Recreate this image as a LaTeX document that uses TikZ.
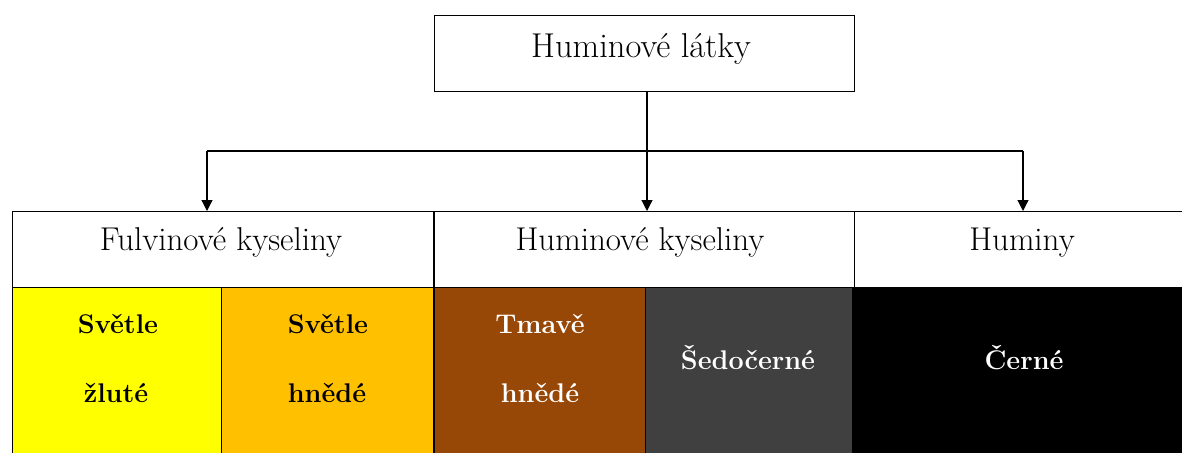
\documentclass[tikz,border=0pt]{standalone}
\usepackage{fontspec}
\usetikzlibrary{arrows.meta}
\definecolor{cyel}{HTML}{FFFF00}
\definecolor{corg}{HTML}{FFC000}
\definecolor{cbrn}{HTML}{974706}
\definecolor{cgry}{HTML}{404040}
\begin{document}
\begin{tikzpicture}[x=1pt,y=-1pt,
  cell/.style={draw=black,line width=1.2pt,anchor=north west,inner sep=0pt,minimum height=#1},
  cell/.default=76pt,
  hdr/.style={anchor=base,inner sep=0pt,font=\fontsize{33}{38}\selectfont},
  ttl/.style={anchor=base,inner sep=0pt,font=\fontsize{34.5}{38}\selectfont},
  lbl/.style={anchor=base,inner sep=0pt,font=\fontsize{27}{32}\selectfont\bfseries},
  conn/.style={line width=1.2pt},
  arr/.style={line width=1.2pt,-{Triangle[width=11pt,length=11pt]}}]
\useasboundingbox (0,0) rectangle (1182,452);
\clip (0,0) rectangle (1182,452);
% top box
\node[cell,minimum width=420pt] (top) at (434,15) {};
\node[ttl] (toptxt) at (641,57) {Huminové látky};
% header row
\node[cell,minimum width=422pt] (fk) at (12,211) {};
\node[cell,minimum width=420pt] (hk) at (434,211) {};
\node[cell,minimum width=340pt] (hu) at (854,211) {};
\node[hdr] (fktxt) at (221,250) {Fulvinové kyseliny};
\node[hdr] (hktxt) at (640,250) {Huminové kyseliny};
\node[hdr] (hutxt) at (1022,250) {Huminy};
% colour row
\node[cell=180pt,minimum width=209pt,fill=cyel] (c1) at (12,287) {};
\node[cell=180pt,minimum width=213pt,fill=corg] (c2) at (221,287) {};
\node[cell=180pt,minimum width=211pt,fill=cbrn] (c3) at (434,287) {};
\node[cell=180pt,minimum width=207pt,fill=cgry] (c4) at (645,287) {};
\node[cell=180pt,minimum width=340pt,fill=black] (c5) at (852,287) {};
\draw[line width=2.2pt] (434,211) -- (434,460);
\node[lbl] (t1a) at (118,333) {Světle};
\node[lbl] (t1b) at (116,402) {žluté};
\node[lbl] (t2a) at (328,333) {Světle};
\node[lbl] (t2b) at (327,402) {hnědé};
\node[lbl,text=white] (t3a) at (540,333) {Tmavě};
\node[lbl,text=white] (t3b) at (540,402) {hnědé};
\node[lbl,text=white] (t4) at (748,369) {Šedočerné};
\node[lbl,text=white] (t5) at (1024,369) {Černé};
% connectors
\coordinate (jm) at (647,151);
\coordinate (jl) at (207,151);
\coordinate (jr) at (1023,151);
\draw[conn] (top.south -| jm) -- (jm);
\draw[conn] (jl) -- (jr);
\draw[arr] (jl) -- (jl |- fk.north);
\draw[arr] (jm) -- (jm |- hk.north);
\draw[arr] (jr) -- (jr |- hu.north);
\end{tikzpicture}
\end{document}
